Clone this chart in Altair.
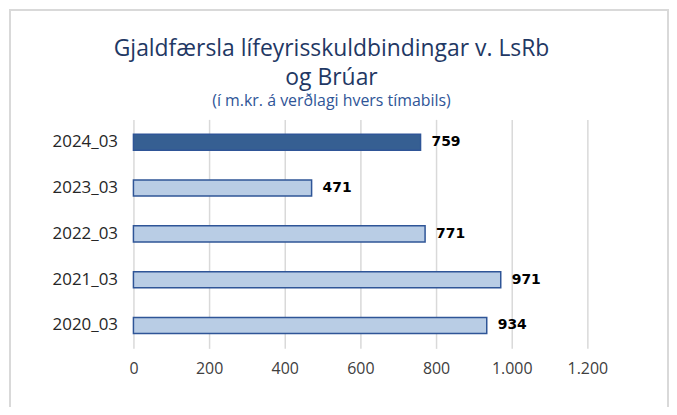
import altair as alt
import pandas as pd

periods = ["2024_03", "2023_03", "2022_03", "2021_03", "2020_03"]
values = [759, 471, 771, 971, 934]
highlight = "2024_03"
x_ticks = [0, 200, 400, 600, 800, 1000, 1200]

df = pd.DataFrame({"period": periods, "value": values})

FONT = "Open Sans"
DARK = "#365f92"
LIGHT = "#b9cde5"
EDGE = "#2f5597"

y_enc = alt.Y(
    "period:N",
    sort=periods,
    title=None,
    scale=alt.Scale(paddingInner=0.65, paddingOuter=0.325),
    axis=alt.Axis(domain=False, ticks=False, grid=False, labelPadding=16,
                  labelFontSize=17, labelColor="#262626", labelFont=FONT),
)
x_enc = alt.X(
    "value:Q",
    title=None,
    scale=alt.Scale(domain=[0, 1200], nice=False),
    axis=alt.Axis(values=x_ticks, domain=False, ticks=False, grid=True,
                  gridColor="#d9d9d9", gridWidth=1.5, labelPadding=12,
                  labelFlush=False,
                  labelFontSize=16, labelColor="#404040", labelFont=FONT,
                  labelExpr="replace(format(datum.value, ','), ',', '.')"),
)

bars = alt.Chart(df).mark_bar(stroke=EDGE, strokeWidth=1.5).encode(
    y=y_enc,
    x=x_enc,
    fill=alt.condition(alt.datum.period == highlight, alt.value(DARK), alt.value(LIGHT)),
)

labels = alt.Chart(df).mark_text(
    align="left", baseline="middle", dx=11, fontWeight="bold", fontSize=14,
    font="DejaVu Sans", color="#000000",
).encode(
    y=alt.Y("period:N", sort=periods),
    x=alt.X("value:Q"),
    text=alt.Text("value:Q", format="d"),
)

frame = alt.Chart(alt.Data(values=[{}])).mark_rect(
    fill=None, stroke="#d9d9d9", strokeWidth=2, clip=False
).encode(
    x=alt.value(-124), x2=alt.value(537), y=alt.value(-110), y2=alt.value(320)
)

chart = alt.layer(frame, bars, labels).properties(
    width=456,
    height=230,
    padding={"left": 126, "top": 111, "right": 82, "bottom": 58},
    autosize=alt.AutoSizeParams(type="none"),
    title=alt.TitleParams(
        text=["Gjaldfærsla lífeyrisskuldbindingar v. LsRb", "og Brúar"],
        subtitle="(í m.kr. á verðlagi hvers tímabils)",
        anchor="middle",
        frame="group",
        dx=-29,
        font=FONT,
        fontSize=23,
        fontWeight="normal",
        color="#1f3864",
        lineHeight=29,
        subtitleFont=FONT,
        subtitleFontSize=16,
        subtitleColor="#2f5597",
        subtitlePadding=4,
        offset=-101,
    ),
).configure_view(stroke=None)

chart.save("out.html", embed_options={"renderer": "svg", "actions": False})
